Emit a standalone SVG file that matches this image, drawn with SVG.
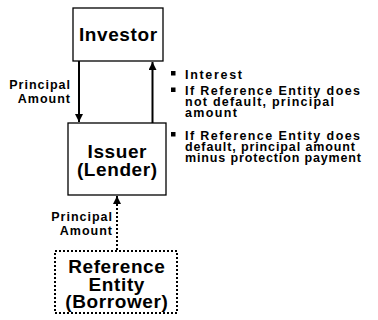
<svg xmlns="http://www.w3.org/2000/svg" width="378" height="320" viewBox="0 0 378 320">
<defs>
<style>
text{font-family:"Liberation Sans",Arial,sans-serif;font-weight:bold;fill:#000}
.big{font-size:19px;letter-spacing:0.6px;text-anchor:middle}
.lbl{font-size:12.5px;letter-spacing:1px;text-anchor:end}
.bul{font-size:12.5px}
.box{fill:#fff;stroke:#000;stroke-width:1.3}
.dbox{fill:#fff;stroke:#000;stroke-width:2;stroke-dasharray:2 2}
.ln{stroke:#000;stroke-width:2;fill:none}
.dln{stroke:#000;stroke-width:2;fill:none;stroke-dasharray:2 2}
</style>
<marker id="ah" viewBox="0 0 10 10" refX="10" refY="5" markerWidth="4" markerHeight="4" orient="auto" markerUnits="strokeWidth">
<path d="M0,0 L10,5 L0,10 z" fill="#000"/>
</marker>
</defs>
<g id="connectors">
<line class="ln" x1="79" y1="61" x2="79" y2="122" marker-end="url(#ah)"/>
<line class="ln" x1="152.5" y1="123" x2="152.5" y2="62" marker-end="url(#ah)"/>
<line class="dln" x1="117" y1="250" x2="117" y2="196" marker-end="url(#ah)"/>
</g>
<g id="investor">
<rect class="box" x="73" y="8" width="90" height="53"/>
<text class="big" x="118.3" y="41">Investor</text>
</g>
<g id="issuer">
<rect class="box" x="68" y="123" width="98" height="72"/>
<text class="big" x="117.3" y="158">Issuer</text>
<text class="big" x="117.3" y="176">(Lender)</text>
</g>
<g id="reference">
<rect class="dbox" x="55" y="251" width="122" height="62"/>
<text class="big" x="116.8" y="273">Reference</text>
<text class="big" x="116.8" y="290.5">Entity</text>
<text class="big" x="116.8" y="308">(Borrower)</text>
</g>
<g id="labels">
<text class="lbl" x="71" y="89">Principal</text>
<text class="lbl" x="71" y="102.5">Amount</text>
<text class="lbl" x="113" y="221">Principal</text>
<text class="lbl" x="113" y="234.5">Amount</text>
</g>
<g id="bullets">
<rect x="171" y="71" width="4.5" height="4.5"/>
<rect x="171" y="87.5" width="4.5" height="4.5"/>
<rect x="171" y="132" width="4.5" height="4.5"/>
<text class="bul" x="185" y="78.5" textLength="57">Interest</text>
<text class="bul" x="185" y="95" textLength="175">If Reference Entity does</text>
<text class="bul" x="185" y="106" textLength="149">not default, principal</text>
<text class="bul" x="185" y="117" textLength="52">amount</text>
<text class="bul" x="185" y="139.5" textLength="175">If Reference Entity does</text>
<text class="bul" x="185" y="150.5" textLength="170">default, principal amount</text>
<text class="bul" x="185" y="161.5" textLength="176">minus protection payment</text>
</g>
</svg>
